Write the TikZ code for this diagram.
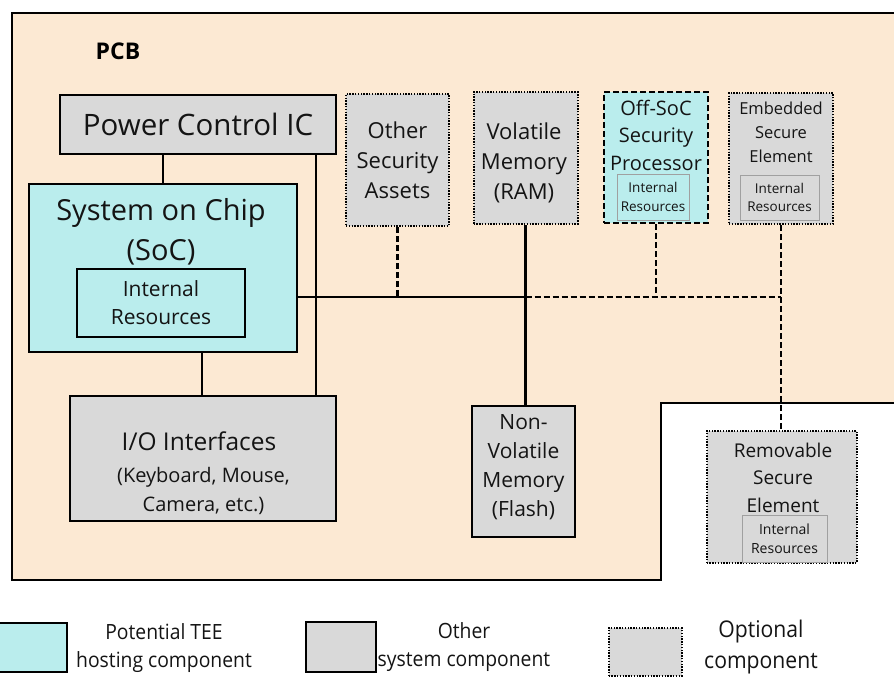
\documentclass[tikz,border=0pt]{standalone}
\usepackage{fontspec}
\setmainfont{Open Sans}
\newfontfamily\legendfont[FakeStretch=0.92]{Open Sans}
\usetikzlibrary{calc}

\definecolor{pcbfill}{HTML}{FCE9D3}
\definecolor{teefill}{HTML}{BAEDED}
\definecolor{sysfill}{HTML}{D9D9D9}
\definecolor{innerline}{HTML}{A0A0A0}

\newcommand\fsz[2]{\fontsize{#1}{#2}\selectfont}

\tikzset{
  board/.style={fill=pcbfill, draw=black, line width=1.8pt},
  sysbox/.style={draw=black, fill=sysfill, line width=2pt, rectangle, inner sep=0pt},
  teebox/.style={draw=black, fill=teefill, line width=2pt, rectangle, inner sep=0pt},
  optbox/.style={draw=black, fill=sysfill, line width=2pt, rectangle, inner sep=0pt,
                 dash pattern=on 1.4pt off 1.4pt},
  optteebox/.style={draw=black, fill=teefill, line width=2pt, rectangle, inner sep=0pt,
                 dash pattern=on 6pt off 3pt},
  resbox/.style={draw=innerline, line width=1pt, rectangle, inner sep=0pt},
  lbl/.style={inner sep=0pt, align=center, text=black!92},
  wire/.style={line width=2.2pt},
  optwire/.style={line width=2.2pt, dash pattern=on 6pt off 3pt},
}

\begin{document}
\begin{tikzpicture}[x=1pt, y=-1pt]
\useasboundingbox (0,0) rectangle (894,677);

% printed circuit board outline (notched at the lower right)
\path[board] (12,13) -- (900,13) -- (900,403) -- (661,403) -- (661,580) -- (12,580) -- cycle;
\node[lbl, text=black, font=\fsz{23}{28}\bfseries] (pcb) at (118,51) {PCB};

% power control IC
\node[sysbox, text=black!92, minimum width=276pt, minimum height=59pt, font=\fsz{29.5}{36}] (power) at (198,124.5) {Power Control IC};

% system on chip with its internal resources
\node[teebox, minimum width=268pt, minimum height=168pt] (soc) at (163,268) {};
\node[lbl, font=\fsz{29}{40}] (soctext) at (161,232) {System on Chip\\(SoC)};
\node[teebox, text=black!92, minimum width=168pt, minimum height=68pt, font=\fsz{21}{28}, align=center] (socres) at (161,303) {Internal\\Resources};

% I/O interfaces
\node[sysbox, minimum width=266pt, minimum height=125pt] (io) at (203,458.5) {};
\node[lbl, font=\fsz{24.5}{30}] (iotitle) at (199,441) {I/O Interfaces};
\node[lbl, font=\fsz{20}{29}] (iosub) at (203.5,491) {(Keyboard, Mouse,\\Camera, etc.)};

% other security assets
\node[optbox, minimum width=103pt, minimum height=132pt] (other) at (397.5,160) {};
\node[lbl, font=\fsz{22}{30}] (othertext) at (397.5,160) {Other\\Security\\Assets};

% volatile memory
\node[optbox, minimum width=104pt, minimum height=132pt] (ram) at (525.5,158) {};
\node[lbl, font=\fsz{22}{30}] (ramtext) at (524,163) {Volatile\\Memory\\(RAM)};

% non-volatile memory
\node[sysbox, minimum width=103pt, minimum height=131pt] (nvm) at (523.5,471.5) {};
\node[lbl, font=\fsz{21}{29}] (nvmtext) at (523.5,467) {Non-\\Volatile\\Memory\\(Flash)};

% off-SoC security processor
\node[optteebox, minimum width=104pt, minimum height=131pt] (offsoc) at (656,157.5) {};
\node[lbl, font=\fsz{20}{27.5}] (offsoctext) at (656,135) {Off-SoC\\Security\\Processor};
\node[resbox, fill=teefill, text=black!92, minimum width=72pt, minimum height=46pt, font=\fsz{13.5}{18.5}, align=center] (offsocres) at (653,197) {Internal\\Resources};

% embedded secure element
\node[optbox, minimum width=104pt, minimum height=131pt] (ese) at (781,158.5) {};
\node[lbl, font=\fsz{16.5}{24}] (esetext) at (781,132) {Embedded\\Secure\\Element};
\node[resbox, fill=sysfill, text=black!92, minimum width=79pt, minimum height=45pt, font=\fsz{13.5}{18.5}, align=center] (eseres) at (779.5,197.5) {Internal\\Resources};

% removable secure element
\node[optbox, minimum width=150pt, minimum height=132pt] (rse) at (781.5,497) {};
\node[lbl, font=\fsz{19}{27.5}] (rsetext) at (783,477.5) {Removable\\Secure\\Element};
\node[resbox, fill=sysfill, text=black!92, minimum width=85pt, minimum height=47pt, font=\fsz{14}{19}, align=center] (rseres) at (784.5,538.5) {Internal\\Resources};

% connections
\coordinate (busL) at ([yshift=-29pt]soc.east);
\draw[wire] (soc.north) -- (soc.north |- power.south);
\draw[wire] ([xshift=-21pt]power.south east) -- ([xshift=-21pt]power.south east |- io.north);
\draw[wire] ([xshift=39pt]soc.south) -- ([xshift=39pt]soc.south |- io.north);
\draw[wire] (busL) -- (busL -| ram.south);
\draw[optwire] (busL -| ram.south) -- (busL -| ese.south);
\draw[wire] (ram.south) -- (ram.south |- nvm.north);
\draw[optwire] (other.south) -- (other.south |- busL);
\draw[optwire] (offsoc.south) -- (offsoc.south |- busL);
\draw[optwire] (ese.south) -- (ese.south |- rse.north);

% legend
\node[teebox, minimum width=70pt, minimum height=49pt] (legtee) at (32,647.5) {};
\node[lbl, font=\legendfont\fsz{21}{28}] (legteetext) at (164,648) {Potential TEE\\hosting component};
\node[sysbox, minimum width=70pt, minimum height=50pt] (legsys) at (341,647) {};
\node[lbl, font=\legendfont\fsz{21}{28}] (legsystext) at (464,647) {Other\\system component};
\node[optbox, minimum width=73pt, minimum height=48pt] (legopt) at (645,652) {};
\node[lbl, font=\legendfont\fsz{23}{31}] (legopttext) at (761,647) {Optional\\component};
\end{tikzpicture}
\end{document}
